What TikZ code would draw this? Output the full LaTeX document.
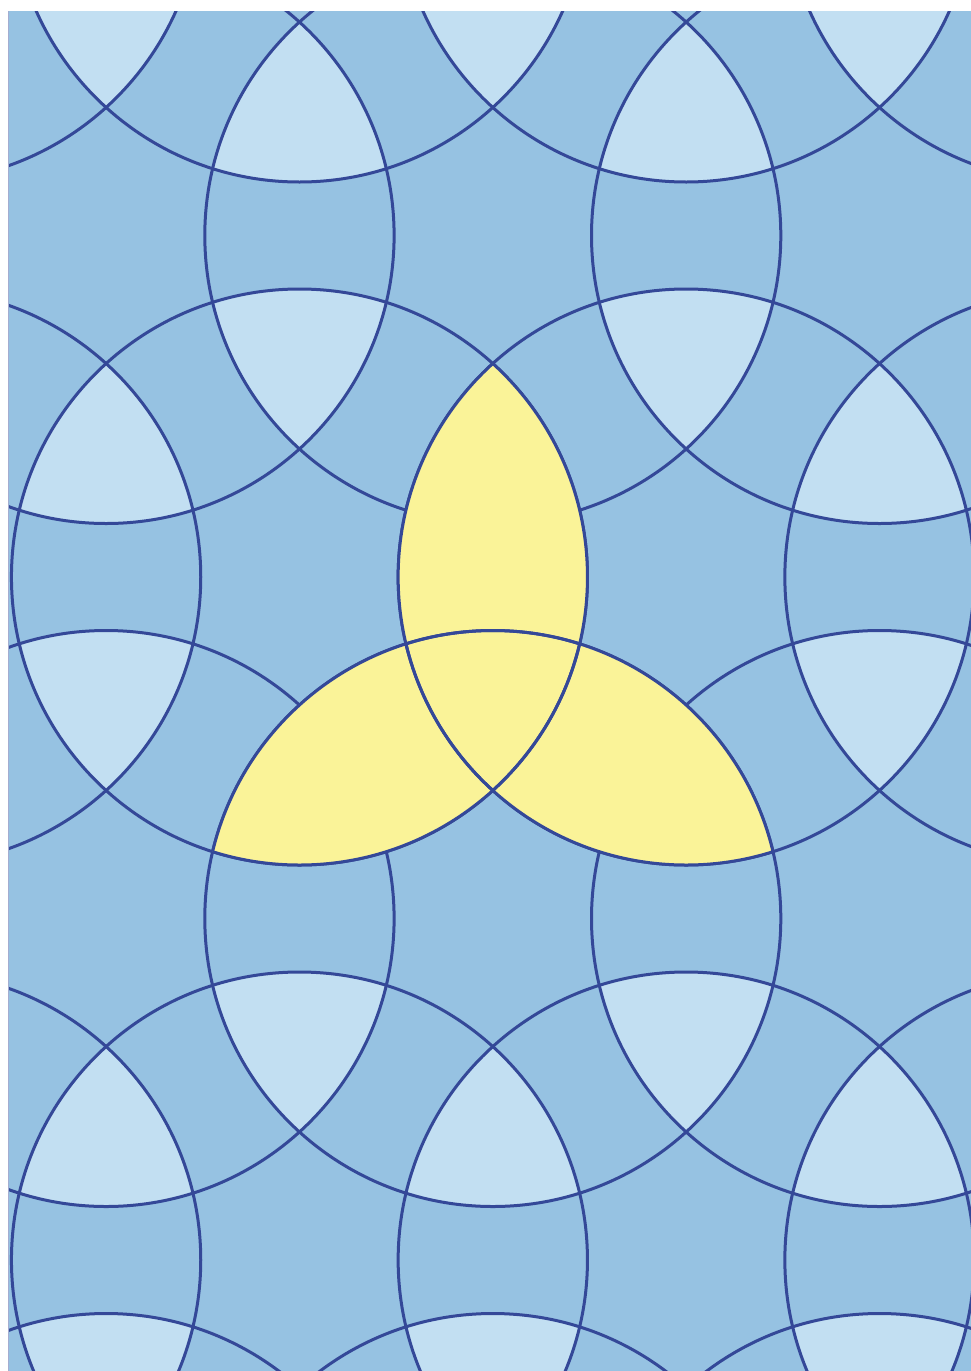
\documentclass[tikz,border=0pt]{standalone}
\usepackage{tikz}
\usepackage{xcolor}

\definecolor{tilebg}{RGB}{150,194,226}
\definecolor{tilelight}{RGB}{194,223,242}
\definecolor{trefoil}{RGB}{250,243,152}
\definecolor{ink}{RGB}{52,72,152}

\newcommand{\ringr}{288}     % ring radius
\newcommand{\colstep}{386.7} % centre spacing in a row
\newcommand{\rowstep}{341.5} % row spacing

\begin{document}
\begin{tikzpicture}[x=1pt, y=-1pt,
    ring/.style={draw=ink, line width=3pt},
    lobe/.style={fill=trefoil},
    patch/.style={fill=tilelight}]

  \useasboundingbox (0,0) rectangle (971,1371);
  \fill[white] (0,0) rectangle (971,1371);

  \begin{scope}
    \clip (8,11) rectangle (971,1371);
    \fill[tilebg] (8,11) rectangle (971,1371);

    %% ── light patches: three rings overlap ─────────────────────
    \foreach \n in {-1,...,6}{
      \foreach \k in {-3,...,2}{
        \pgfmathsetmacro\cx{492.8+\colstep*\k+0.5*\colstep*mod(\n+1,2)}
        \pgfmathsetmacro\cy{-106+\rowstep*\n}
        \pgfmathsetmacro\dx{\cx+\colstep}
        \pgfmathsetmacro\mx{\cx+0.5*\colstep}
        \foreach \s in {-1,1}{
          \begin{scope}
            \clip (\cx,\cy) circle[radius=\ringr pt];
            \clip (\dx,\cy) circle[radius=\ringr pt];
            \fill[patch] (\mx,\cy+\s*\rowstep) circle[radius=\ringr pt];
          \end{scope}
        }
      }
    }

    %% ── all rings ──────────────────────────────────────────────
    \foreach \n in {-1,...,6}{
      \foreach \k in {-3,...,2}{
        \pgfmathsetmacro\cx{492.8+\colstep*\k+0.5*\colstep*mod(\n+1,2)}
        \pgfmathsetmacro\cy{-106+\rowstep*\n}
        \draw[ring] (\cx,\cy) circle[radius=\ringr pt];
      }
    }

    %% ── trefoil in the middle ──────────────────────────────────
    \coordinate (ringA) at (299.45,577);
    \coordinate (ringB) at (686.15,577);
    \coordinate (ringC) at (492.8,918.5);

    \begin{scope}
      \clip (ringA) circle[radius=\ringr pt];
      \fill[lobe] (ringB) circle[radius=\ringr pt];
      \fill[lobe] (ringC) circle[radius=\ringr pt];
    \end{scope}
    \begin{scope}
      \clip (ringB) circle[radius=\ringr pt];
      \fill[lobe] (ringC) circle[radius=\ringr pt];
    \end{scope}

    \foreach \p/\q in {ringA/ringB, ringA/ringC, ringB/ringA,
                       ringB/ringC, ringC/ringA, ringC/ringB}{
      \begin{scope}
        \clip (\q) circle[radius=\ringr pt];
        \draw[ring] (\p) circle[radius=\ringr pt];
      \end{scope}
    }
  \end{scope}

  %% thin edge on the left
  \draw[ink!45, line width=0.8pt] (8.4,11) -- (8.4,1371);

\end{tikzpicture}
\end{document}
